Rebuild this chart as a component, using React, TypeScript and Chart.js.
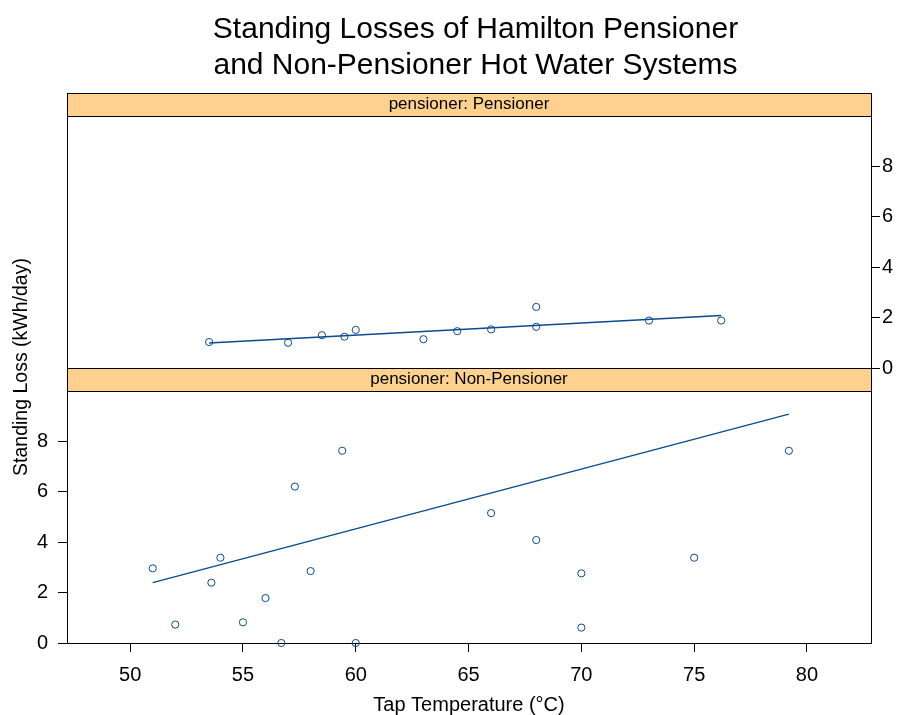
import React, { useEffect, useRef } from 'react';
import { Chart, registerables } from 'chart.js';

Chart.register(...registerables);

// ---- data ----
const titleLines = ['Standing Losses of Hamilton Pensioner', 'and Non-Pensioner Hot Water Systems'];
const xAxisTitle = 'Tap Temperature (°C)';
const yAxisTitle = 'Standing Loss (kWh/day)';
const panelLabels = ['pensioner: Pensioner', 'pensioner: Non-Pensioner'];

const pensionerTemp = [53.5, 57.0, 58.5, 59.5, 60.0, 63.0, 64.5, 66.0, 68.0, 68.0, 73.0, 76.2];
const pensionerLoss = [1.03, 1.0, 1.3, 1.24, 1.51, 1.14, 1.46, 1.53, 2.42, 1.63, 1.88, 1.88];
const pensionerFitTemp = [53.5, 76.2];
const pensionerFitLoss = [0.99, 2.08];

const nonPensionerTemp = [51.0, 52.0, 53.6, 54.0, 55.0, 56.0, 56.7, 57.3, 58.0, 59.4, 60.0, 66.0, 68.0, 70.0, 70.0, 75.0, 79.2];
const nonPensionerLoss = [2.96, 0.73, 2.39, 3.38, 0.82, 1.78, 0.0, 6.2, 2.85, 7.62, 0.0, 5.15, 4.08, 2.76, 0.61, 3.38, 7.62];
const nonPensionerFitTemp = [51.0, 79.2];
const nonPensionerFitLoss = [2.39, 9.07];

const xTicks = [50, 55, 60, 65, 70, 75, 80];
const yTicks = [0, 2, 4, 6, 8];

// ---- style ----
const FONT = '"Liberation Sans", Arial, Helvetica, sans-serif';
const POINT_COLOR = '#0b4a8b';
const STRIP_COLOR = '#ffd18e';
const X_MIN = 47.2;
const X_MAX = 82.84;
const Y_MAX_PANEL = 10; // top of the data region of a panel
const Y_MAX_AXIS = 10.9; // includes the strip

const toPoints = (xs: number[], ys: number[]) => xs.map((x, i) => ({ x, y: ys[i] }));

const yScale = (position: 'left' | 'right', stack: string, weight: number, show: boolean) => ({
  type: 'linear' as const,
  position,
  stack,
  stackWeight: 1,
  weight,
  min: 0,
  max: Y_MAX_AXIS,
  afterBuildTicks: (s: any) => {
    if (show) s.ticks = yTicks.map((v) => ({ value: v }));
  },
  afterFit: (s: any) => {
    s.width = position === 'left' ? 67 : 32;
  },
  grid: { display: show, drawOnChartArea: false, drawTicks: true, tickLength: 9, color: '#000', lineWidth: 1 },
  border: { display: false },
  ticks: {
    display: show,
    color: '#000',
    font: { family: FONT, size: 20 },
    padding: position === 'left' ? 10 : 2,
    autoSkip: false,
  },
});

const panelPlugin = {
  id: 'latticePanels',
  beforeDatasetsDraw(chart: any) {
    const ctx = chart.ctx;
    const area = chart.chartArea;
    const left = Math.round(area.left) + 0.5;
    const right = Math.round(area.right) + 0.5;
    const panels = [chart.scales.yTopL, chart.scales.yBotL];
    ctx.save();
    panels.forEach((sc: any, i: number) => {
      const top = Math.round(sc.top) + 0.5;
      const stripBottom = Math.round(sc.getPixelForValue(Y_MAX_PANEL)) + 0.5;
      const bottom = Math.round(sc.bottom) + 0.5;
      ctx.fillStyle = STRIP_COLOR;
      ctx.fillRect(left, top, right - left, stripBottom - top);
      ctx.strokeStyle = '#000';
      ctx.lineWidth = 1;
      ctx.strokeRect(left, top, right - left, stripBottom - top);
      ctx.strokeRect(left, stripBottom, right - left, bottom - stripBottom);
      ctx.fillStyle = '#000';
      ctx.font = `17px ${FONT}`;
      ctx.textAlign = 'center';
      ctx.textBaseline = 'alphabetic';
      ctx.fillText(panelLabels[i], (area.left + area.right) / 2, sc.top + 16.2);
    });
    ctx.restore();
  },
  afterDraw(chart: any) {
    const ctx = chart.ctx;
    const area = chart.chartArea;
    ctx.save();
    ctx.fillStyle = '#000';
    ctx.textAlign = 'center';
    ctx.textBaseline = 'alphabetic';
    ctx.font = `30px ${FONT}`;
    ctx.fillText(titleLines[0], 475.5, 37.5);
    ctx.fillText(titleLines[1], 475.5, 73.5);
    ctx.font = `19.5px ${FONT}`;
    ctx.translate(27, (area.top + area.bottom) / 2 - 1);
    ctx.rotate(-Math.PI / 2);
    ctx.fillText(yAxisTitle, 0, 0);
    ctx.restore();
  },
};

export default function App() {
  const ref = useRef<HTMLCanvasElement>(null);

  useEffect(() => {
    const canvas = ref.current;
    if (!canvas) return;
    Chart.defaults.font.family = FONT;
    const pointStyle = {
      showLine: false,
      pointStyle: 'circle' as const,
      pointRadius: 3.6,
      pointBorderWidth: 1,
      pointBackgroundColor: 'rgba(0,0,0,0)',
      pointBorderColor: POINT_COLOR,
      borderColor: POINT_COLOR,
      clip: false as const,
    };
    const lineStyle = {
      showLine: true,
      pointRadius: 0,
      borderWidth: 1.3,
      borderColor: POINT_COLOR,
      tension: 0,
      clip: false as const,
    };
    const chart = new Chart(canvas, {
      type: 'scatter',
      data: {
        datasets: [
          { label: 'Pensioner', data: toPoints(pensionerTemp, pensionerLoss), yAxisID: 'yTopL', ...pointStyle },
          { label: 'Pensioner fit', data: toPoints(pensionerFitTemp, pensionerFitLoss), yAxisID: 'yTopL', ...lineStyle },
          { label: 'Non-Pensioner', data: toPoints(nonPensionerTemp, nonPensionerLoss), yAxisID: 'yBotL', ...pointStyle },
          { label: 'Non-Pensioner fit', data: toPoints(nonPensionerFitTemp, nonPensionerFitLoss), yAxisID: 'yBotL', ...lineStyle },
        ],
      },
      options: {
        responsive: false,
        maintainAspectRatio: false,
        devicePixelRatio: 1,
        animation: false,
        layout: { padding: { top: 93, left: 0, right: 0, bottom: 0 } },
        plugins: {
          legend: { display: false },
          tooltip: { enabled: false },
          title: { display: false },
        },
        scales: {
          x: {
            type: 'linear',
            position: 'bottom',
            min: X_MIN,
            max: X_MAX,
            afterBuildTicks: (s: any) => {
              s.ticks = xTicks.map((v) => ({ value: v }));
            },
            afterFit: (s: any) => {
              s.height = 72;
            },
            grid: { display: true, drawOnChartArea: false, drawTicks: true, tickLength: 9, color: '#000', lineWidth: 1 },
            border: { display: false },
            ticks: { color: '#000', font: { family: FONT, size: 20 }, padding: 11, maxRotation: 0, autoSkip: false },
            title: {
              display: true,
              text: xAxisTitle,
              color: '#000',
              font: { family: FONT, size: 20, lineHeight: 1 },
              padding: { top: 0, bottom: 0 },
            },
          },
          yTopL: yScale('left', 'L', 2, false),
          yBotL: yScale('left', 'L', 1, true),
          yTopR: yScale('right', 'R', 1, true),
          yBotR: yScale('right', 'R', 2, false),
        } as any,
      },
      plugins: [panelPlugin],
    });
    return () => chart.destroy();
  }, []);

  return (
    <div style={{ position: 'absolute', left: 0, top: 0, width: 903, height: 715, background: '#fff' }}>
      <canvas ref={ref} width={903} height={715} style={{ display: 'block', width: 903, height: 715 }} />
    </div>
  );
}
